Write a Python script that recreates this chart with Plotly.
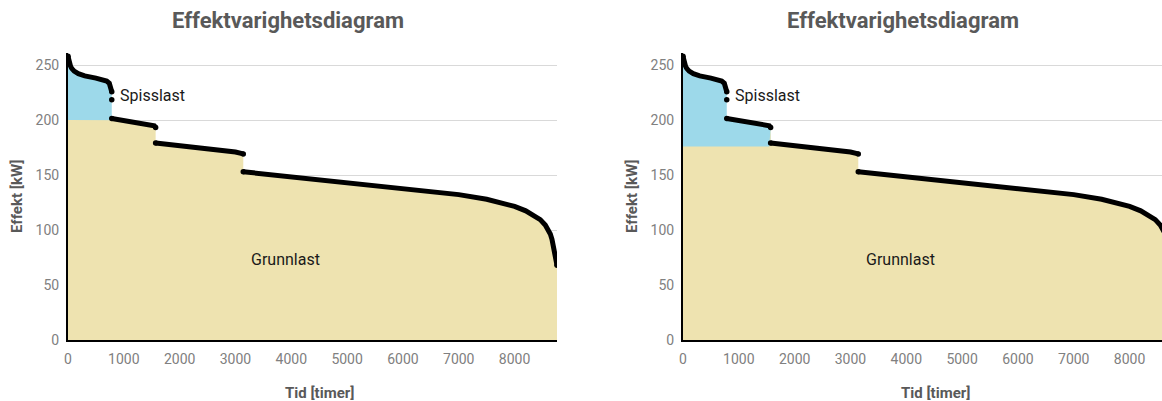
import plotly.graph_objects as go

# Load duration curve (effektvarighetskurve), sorted hourly demand in kW.
# The curve is stored as separate steps; the gaps between them are drawn open.
seg1_hours = [0, 10, 24, 45, 66, 110, 185, 300, 500, 620, 693, 740, 770, 784]
seg1_kw = [258, 255, 251.5, 249, 247, 244.5, 242.2, 240.2, 238.2, 237, 235.5, 233.5, 229.8, 225.8]

dot_hours = [784]
dot_kw = [218.5]

seg2_hours = [784, 1000, 1200, 1400, 1500, 1545, 1570]
seg2_kw = [201.5, 199.8, 198.3, 196.8, 195.8, 194.9, 193.2]

seg3_hours = [1570, 2000, 2500, 3000, 3140]
seg3_kw = [179.2, 176.8, 174.0, 170.9, 169.2]

seg4_hours = [3140, 4000, 5000, 5600, 6000, 6500, 7000, 7500, 7800, 8000, 8200, 8350,
              8460, 8550, 8600, 8640, 8670, 8700, 8730, 8760]
seg4_kw = [153, 148.5, 143.3, 140.3, 138.2, 135.3, 132.2, 128, 124.6, 121.5, 117.5, 113.5,
           109.5, 104.5, 100.8, 96.5, 91.5, 84.5, 76.5, 68]

# Grunnlast level and the hour where spisslast stops, per scenario
scenarios = [
    {"base": 200, "cutoff": 784},
    {"base": 176, "cutoff": 1570},
]

x_ticks = [0, 1000, 2000, 3000, 4000, 5000, 6000, 7000, 8000]
y_ticks = [0, 50, 100, 150, 200, 250]

title_text = "Effektvarighetsdiagram"
x_title = "Tid [timer]"
y_title = "Effekt [kW]"
peak_label = "Spisslast"
base_label = "Grunnlast"

BLUE = "#9dd9ea"
BEIGE = "#eee3b0"
TXT_GRAY = "#808080"
TITLE_GRAY = "#595959"
FONT = "Roboto"

W, H = 1162, 401
steps = [(seg1_hours, seg1_kw), (seg2_hours, seg2_kw), (seg3_hours, seg3_kw), (seg4_hours, seg4_kw)]
segments = [steps[0], (dot_hours, dot_kw)] + steps[1:]
all_hours = [h for hs, _ in segments for h in hs]
all_kw = [v for _, vs in segments for v in vs]

line_x, line_y = [], []
for hs, vs in steps:
    line_x += hs + [None]
    line_y += vs + [None]

# round caps at the ends of every step, plus the isolated point
cap_x = [hs[k] for hs, _ in steps for k in (0, -1)] + dot_hours
cap_y = [vs[k] for _, vs in steps for k in (0, -1)] + dot_kw

# pixel layout of each panel
panels = [
    {"x0": 68, "x1": 557, "xmax": 8760, "shift": 0},
    {"x0": 683, "x1": 1162, "xmax": 8760 * (1162 - 683) / (557 - 68), "shift": 615},
]
y_top_px, y_bot_px = 53, 340

fig = go.Figure()
annotations = []
for i, (p, sc) in enumerate(zip(panels, scenarios)):
    xa = "x" if i == 0 else f"x{i + 1}"
    ya = "y" if i == 0 else f"y{i + 1}"

    peak_x = [h for h in all_hours if h <= sc["cutoff"]]
    peak_y = [v for h, v in zip(all_hours, all_kw) if h <= sc["cutoff"]]
    base_y = [min(v, sc["base"]) if h < sc["cutoff"] or (h == sc["cutoff"] and i == 0) else v
              for h, v in zip(all_hours, all_kw)]

    fig.add_trace(go.Scatter(x=peak_x, y=peak_y, mode="lines", fill="tozeroy",
                             fillcolor=BLUE, line=dict(width=0, color=BLUE),
                             hoverinfo="skip", showlegend=False, xaxis=xa, yaxis=ya))
    fig.add_trace(go.Scatter(x=all_hours, y=base_y, mode="lines", fill="tozeroy",
                             fillcolor=BEIGE, line=dict(width=0, color=BEIGE),
                             hoverinfo="skip", showlegend=False, xaxis=xa, yaxis=ya))
    fig.add_trace(go.Scatter(x=line_x, y=line_y, mode="lines", connectgaps=False,
                             line=dict(width=5, color="black"),
                             showlegend=False, xaxis=xa, yaxis=ya))
    fig.add_trace(go.Scatter(x=cap_x, y=cap_y, mode="markers",
                             marker=dict(size=5.5, color="black", line=dict(width=0)),
                             showlegend=False, xaxis=xa, yaxis=ya))

    xdom = [p["x0"] / W, p["x1"] / W]
    ydom = [1 - y_bot_px / H, 1 - y_top_px / H]
    xkey = "xaxis" if i == 0 else f"xaxis{i + 1}"
    ykey = "yaxis" if i == 0 else f"yaxis{i + 1}"
    fig.update_layout({
        xkey: dict(domain=xdom, range=[0, p["xmax"]], tickvals=x_ticks,
                   showgrid=False, zeroline=False, showline=True, linecolor="black",
                   linewidth=2, ticks="", anchor=ya, automargin=False,
                   ticklabelstandoff=5,
                   tickfont=dict(family=FONT, size=14, color=TXT_GRAY)),
        ykey: dict(domain=ydom, range=[0, 261], tickvals=y_ticks,
                   showgrid=True, gridcolor="#d9d9d9", gridwidth=1, zeroline=False,
                   showline=True, linecolor="black", linewidth=2, ticks="", anchor=xa,
                   ticklabelstandoff=4, automargin=False,
                   tickfont=dict(family=FONT, size=14, color=TXT_GRAY)),
    })

    s = p["shift"]
    annotations += [
        dict(text=title_text, x=(288 + s) / W, y=1 - 21 / H, xref="paper", yref="paper",
             xanchor="center", yanchor="middle", showarrow=False,
             font=dict(family=FONT, size=22, color=TITLE_GRAY, weight="bold")),
        dict(text=y_title, x=(17 + s) / W, y=1 - 197 / H, xref="paper", yref="paper",
             xanchor="center", yanchor="middle", textangle=-90, showarrow=False,
             font=dict(family=FONT, size=15, color=TITLE_GRAY, weight="bold")),
        dict(text=x_title, x=(320 + s) / W, y=1 - 393 / H, xref="paper", yref="paper",
             xanchor="center", yanchor="middle", showarrow=False,
             font=dict(family=FONT, size=15, color=TITLE_GRAY, weight="bold")),
        dict(text=peak_label, x=890, y=222, xref=xa, yref=ya, xanchor="left",
             yanchor="middle", showarrow=False,
             font=dict(family=FONT, size=16, color="#1a1a1a")),
        dict(text=base_label, x=3905, y=73.6, xref=xa, yref=ya, xanchor="center",
             yanchor="middle", showarrow=False,
             font=dict(family=FONT, size=16, color="#1a1a1a")),
    ]

fig.update_layout(template="none", width=W, height=H, autosize=False,
                  margin=dict(l=0, r=0, t=0, b=0, pad=0),
                  paper_bgcolor="white", plot_bgcolor="white",
                  annotations=annotations)

fig.write_html("out.html")
